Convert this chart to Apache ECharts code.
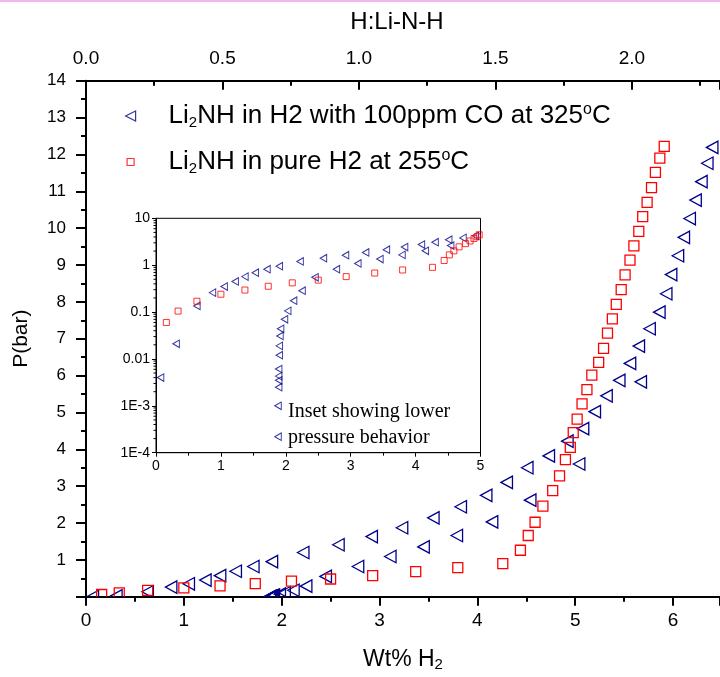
<!DOCTYPE html>
<html><head><meta charset="utf-8">
<script src="https://cdn.jsdelivr.net/npm/echarts@6/dist/echarts.min.js"></script>
<style>html,body{margin:0;padding:0;background:#fff}#c{width:720px;height:677px}</style>
</head><body><div id="c"></div>
<script>
// ---- data ----
const seriesNames = ['co', 'pure'];
const legendLabels = {
  co: 'Li{sub|2}NH in H2 with 100ppm CO at 325{sup|o}C',
  pure: 'Li{sub|2}NH in pure H2 at 255{sup|o}C'
};
// Li2NH in H2 with 100ppm CO at 325C  (wt% H2, P bar)
const coWt = [0.07,0.31,0.63,0.87,1.05,1.22,1.37,1.53,1.71,1.90,2.22,2.58,2.92,3.23,3.55,3.83,4.09,4.30,4.51,4.73,4.92,5.08,5.20,5.32,5.45,5.56,5.65,5.76,5.86,5.93,5.98,6.05,6.11,6.17,6.23,6.29,6.35,6.40,
  1.88,1.88,1.89,1.89,1.89,1.89,1.90,1.90,1.91,1.92,1.98,2.03,2.12,2.25,2.45,2.78,3.11,3.45,3.79,4.15,4.54,5.04,5.67];
const coP = [0.004,0.021,0.135,0.26,0.35,0.45,0.57,0.69,0.82,0.95,1.2,1.41,1.63,1.87,2.14,2.44,2.75,3.1,3.5,3.82,4.22,4.56,5.02,5.45,5.87,6.33,6.80,7.27,7.72,8.22,8.74,9.25,9.75,10.26,10.76,11.26,11.76,12.19,
  0.00022,0.001,0.0025,0.0035,0.0043,0.0061,0.012,0.019,0.031,0.044,0.070,0.106,0.175,0.285,0.55,0.82,1.09,1.35,1.66,2.03,2.62,3.6,5.83];
// Li2NH in pure H2 at 255C
const pureWt = [0.16,0.34,0.63,1.00,1.37,1.73,2.10,2.50,2.93,3.37,3.80,4.26,4.44,4.52,4.59,4.67,4.77,4.84,4.90,4.95,4.98,5.02,5.07,5.12,5.17,5.24,5.29,5.33,5.38,5.42,5.47,5.51,5.56,5.60,5.65,5.69,5.735,5.78,5.82,5.865,5.91];
const pureP = [0.06,0.105,0.17,0.24,0.295,0.355,0.42,0.48,0.57,0.68,0.79,0.90,1.26,1.66,2.02,2.46,2.88,3.28,3.72,4.05,4.45,4.82,5.23,5.62,6.01,6.36,6.74,7.15,7.54,7.93,8.33,8.73,9.13,9.52,9.91,10.31,10.70,11.10,11.51,11.90,12.22];
// axis ranges / tick labels
const wtRange = [0, 6.48];
const wtPerRatio = 2.79;            // wt% H2 per unit H:Li-N-H
const pRange = [0, 14];
const insetWtRange = [0, 5];
const insetPRange = [1e-4, 10];
const insetYTickLabels = {'10':'10','1':'1','0.1':'0.1','0.01':'0.01','0.001':'1E-3','0.0001':'1E-4'};
const insetMinorTickValues = [
  2e-4,3e-4,4e-4,5e-4,6e-4,7e-4,8e-4,9e-4,
  2e-3,3e-3,4e-3,5e-3,6e-3,7e-3,8e-3,9e-3,
  0.02,0.03,0.04,0.05,0.06,0.07,0.08,0.09,
  0.2,0.3,0.4,0.5,0.6,0.7,0.8,0.9,
  2,3,4,5,6,7,8,9];
const insetNote = ['Inset showing lower', 'pressure behavior'];

// ---- build ----
const pts = (xs, ys) => xs.map((x, i) => [x, ys[i]]);
const FONT = '"Liberation Sans", Arial, sans-serif';
const BLUE = '#00008b', RED = '#ff0000';

function mainAxisCommon(extra) {
  return Object.assign({
    type: 'value', gridIndex: 0,
    axisLine: {show: true, onZero: false, lineStyle: {color: '#000', width: 2}},
    axisTick: {show: true, inside: false, length: 9, lineStyle: {color: '#000', width: 2}},
    minorTick: {show: true, splitNumber: 2, length: 5, lineStyle: {color: '#000', width: 2}},
    splitLine: {show: false}, minorSplitLine: {show: false},
    nameTextStyle: {color: '#000', fontFamily: FONT},
    nameMoveOverlap: false
  }, extra);
}
function insetAxisCommon(extra) {
  return Object.assign({
    gridIndex: 1,
    axisLine: {show: true, onZero: false, lineStyle: {color: '#000', width: 1}},
    axisTick: {show: true, inside: false, length: 4, lineStyle: {color: '#000', width: 1}},
    splitLine: {show: false}, minorSplitLine: {show: false}
  }, extra);
}
// hollow markers drawn through the axis scale (api.coord), clipped to the plot area
function markerRenderer(kind, color, w, h, lw) {
  return function (params, api) {
    const p = api.coord([api.value(0), api.value(1)]);
    let shape;
    if (kind === 'tri') {
      shape = {points: [[p[0] - w / 2, p[1]], [p[0] + w / 2, p[1] - h / 2], [p[0] + w / 2, p[1] + h / 2]]};
    } else {
      shape = {points: [[p[0] - w / 2, p[1] - h / 2], [p[0] + w / 2, p[1] - h / 2], [p[0] + w / 2, p[1] + h / 2], [p[0] - w / 2, p[1] + h / 2]]};
    }
    return {type: 'polygon', shape: shape, style: {fill: 'none', stroke: color, lineWidth: lw}};
  };
}
// short minor ticks on the inset's log axis, placed by the axis scale
function minorTickRenderer(params, api) {
  const p = api.coord([insetWtRange[0], api.value(0)]);
  return {type: 'line', shape: {x1: p[0] - 2.5, y1: p[1], x2: p[0], y2: p[1]}, style: {stroke: '#000', lineWidth: 1}};
}

const option = {
  animation: false,
  backgroundColor: '#fff',
  grid: [
    {left: 86, top: 80.7, right: 0, height: 516, containLabel: false, outerBoundsMode: 'none'},
    {left: 156, top: 218.3, width: 324.5, height: 234.4, show: true, borderColor: '#000', borderWidth: 1,
     backgroundColor: 'rgba(0,0,0,0)', containLabel: false, outerBoundsMode: 'none'}
  ],
  legend: {
    orient: 'vertical', left: 120, top: 97, itemWidth: 66, itemHeight: 10, itemGap: 18,
    selectedMode: false, symbolRotate: 0,
    data: [
      {name: 'co', icon: 'path://M10,0 L0,5 L10,10 Z'},
      {name: 'pure', icon: 'path://M0,0 M10,10 M1.5,1.5 L8.5,1.5 L8.5,8.5 L1.5,8.5 Z'}
    ],
    itemStyle: {borderWidth: 1.2},
    formatter: n => legendLabels[n],
    textStyle: {
      color: '#000', fontSize: 26, fontFamily: FONT, lineHeight: 28,
      rich: {
        sub: {fontSize: 15, fontFamily: FONT, color: '#000', lineHeight: 4, verticalAlign: 'bottom'},
        sup: {fontSize: 16, fontFamily: FONT, color: '#000', lineHeight: 7, verticalAlign: 'top'}
      }
    }
  },
  xAxis: [
    mainAxisCommon({
      position: 'bottom', min: wtRange[0], max: wtRange[1], interval: 1,
      axisLabel: {color: '#000', fontSize: 19, fontFamily: FONT, margin: 15, showMaxLabel: false, hideOverlap: false},
      name: '{m|Wt% H}{s|2}', nameLocation: 'middle', nameGap: 49,
      nameTextStyle: {color: '#000', fontFamily: FONT, fontSize: 23, lineHeight: 27,
        rich: {m: {fontSize: 23, fontFamily: FONT, color: '#000', lineHeight: 27},
               s: {fontSize: 15, fontFamily: FONT, color: '#000', lineHeight: 4, verticalAlign: 'bottom'}}}
    }),
    mainAxisCommon({
      position: 'top', min: wtRange[0] / wtPerRatio, max: wtRange[1] / wtPerRatio, interval: 0.5,
      axisTick: {show: true, inside: true, length: 9, lineStyle: {color: '#000', width: 2}},
      axisLabel: {color: '#000', fontSize: 19, fontFamily: FONT, margin: 12, showMaxLabel: false, hideOverlap: false,
                  formatter: v => v.toFixed(1)},
      name: 'H:Li-N-H', nameLocation: 'middle', nameGap: 46,
      nameTextStyle: {color: '#000', fontFamily: FONT, fontSize: 24, padding: [0, 12, 0, 0]}
    }),
    insetAxisCommon({
      type: 'value', position: 'bottom', min: insetWtRange[0], max: insetWtRange[1], interval: 1,
      minorTick: {show: true, splitNumber: 2, length: 3, lineStyle: {color: '#000', width: 1}},
      axisLabel: {color: '#000', fontSize: 14, fontFamily: FONT, margin: 6, hideOverlap: false}
    })
  ],
  yAxis: [
    mainAxisCommon({
      position: 'left', min: pRange[0], max: pRange[1], interval: 1,
      axisTick: {show: true, inside: false, length: 10, lineStyle: {color: '#000', width: 2}},
      axisLabel: {color: '#000', fontSize: 17, fontFamily: FONT, margin: 20, showMinLabel: false, hideOverlap: false},
      name: 'P(bar)', nameLocation: 'middle', nameGap: 54,
      nameTextStyle: {color: '#000', fontFamily: FONT, fontSize: 21}
    }),
    insetAxisCommon({
      type: 'log', logBase: 10, position: 'left', min: insetPRange[0], max: insetPRange[1],
      axisLabel: {color: '#000', fontSize: 14, fontFamily: FONT, margin: 6, hideOverlap: false,
                  formatter: v => insetYTickLabels[String(+v.toPrecision(3))] || ''}
    })
  ],
  series: [
    {name: 'co', type: 'scatter', xAxisIndex: 2, yAxisIndex: 1, symbol: 'triangle', symbolRotate: 90,
     symbolSize: [7.5, 6.5], data: pts(coWt, coP), z: 3,
     itemStyle: {color: 'rgba(0,0,0,0)', borderColor: BLUE, borderWidth: 1}},
    {name: 'pure', type: 'scatter', xAxisIndex: 2, yAxisIndex: 1, symbol: 'rect',
     symbolSize: 6, data: pts(pureWt, pureP), z: 4,
     itemStyle: {color: 'rgba(0,0,0,0)', borderColor: RED, borderWidth: 1}},
    {name: 'co', type: 'custom', xAxisIndex: 0, yAxisIndex: 0, clip: true, z: 3,
     renderItem: markerRenderer('tri', BLUE, 11.5, 12.5, 1.3), data: pts(coWt, coP),
     itemStyle: {color: 'rgba(0,0,0,0)', borderColor: BLUE}},
    {name: 'pure', type: 'custom', xAxisIndex: 0, yAxisIndex: 0, clip: true, z: 4,
     renderItem: markerRenderer('rect', RED, 10, 10, 1.3), data: pts(pureWt, pureP),
     itemStyle: {color: 'rgba(0,0,0,0)', borderColor: RED}},
    {name: 'insetMinorTicks', type: 'custom', xAxisIndex: 2, yAxisIndex: 1, clip: false, silent: true, z: 1,
     renderItem: minorTickRenderer, data: insetMinorTickValues.map(v => [v]),
     encode: {y: 0}}
  ],
  graphic: [
    {type: 'rect', left: 0, top: 0, shape: {width: 720, height: 2}, style: {fill: '#efb6ef'}},
    {type: 'text', x: 288, y: 411.7, style: {text: insetNote[0], font: '20px "Liberation Serif", "Times New Roman", serif', fill: '#000', textVerticalAlign: 'middle', verticalAlign: 'middle'}},
    {type: 'text', x: 288, y: 438, style: {text: insetNote[1], font: '20px "Liberation Serif", "Times New Roman", serif', fill: '#000', textVerticalAlign: 'middle', verticalAlign: 'middle'}}
  ]
};
const chart = echarts.init(document.getElementById('c'), null, {renderer: 'canvas'});
chart.setOption(option);
</script></body></html>
